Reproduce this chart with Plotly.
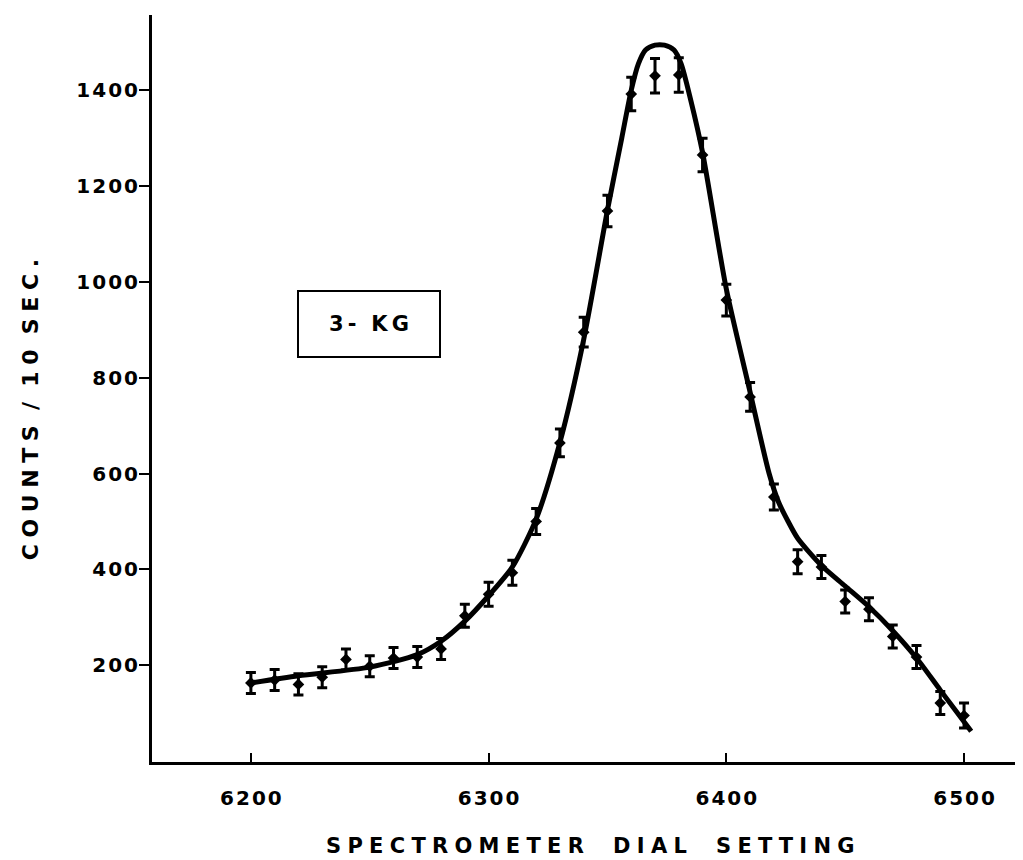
import plotly.graph_objects as go

# Measured points (spectrometer dial setting vs counts / 10 sec)
dial = [6200, 6210, 6220, 6230, 6240, 6250, 6260, 6270, 6280, 6290,
        6300, 6310, 6320, 6330, 6340, 6350, 6360, 6370, 6380, 6390,
        6400, 6410, 6420, 6430, 6440, 6450, 6460, 6470, 6480, 6490, 6500]
counts = [163, 169, 160, 175, 212, 198, 215, 217, 234, 303,
          348, 393, 500, 664, 895, 1148, 1392, 1430, 1432, 1265,
          962, 760, 551, 416, 405, 333, 317, 260, 217, 121, 95]
errors = [22, 22, 22, 22, 22, 22, 22, 22, 22, 24,
          25, 26, 27, 29, 31, 33, 35, 36, 36, 35,
          33, 30, 27, 25, 24, 24, 24, 24, 24, 24, 26]

# Hand-drawn fitted curve
curve_x = [6200, 6220, 6250, 6270, 6280, 6290, 6300, 6310, 6320, 6330,
           6340, 6350, 6356, 6360, 6363, 6366, 6370, 6374, 6378, 6381,
           6385, 6390, 6400, 6410, 6418, 6422, 6426, 6430, 6440, 6450,
           6460, 6470, 6480, 6490, 6503]
curve_y = [163, 178, 196, 222, 250, 292, 345, 405, 505, 665,
           880, 1150, 1300, 1400, 1455, 1484, 1494, 1494, 1484, 1455,
           1380, 1270, 985, 770, 600, 540, 500, 465, 408, 365,
           322, 272, 215, 148, 62]

x_ticks = [6200, 6300, 6400, 6500]
y_ticks = [200, 400, 600, 800, 1000, 1200, 1400]

box_label = "3- KG"
x_title = "SPECTROMETER DIAL SETTING"
y_title = "COUNTS / 10 SEC."


def spaced(s, gap="\u2009", word="\u00a0\u00a0\u00a0"):
    return word.join(gap.join(list(w)) for w in s.split(" "))


def tick_txt(v):
    return "\u200a".join(list(str(v)))


fig = go.Figure()
fig.add_trace(go.Scatter(
    x=curve_x, y=curve_y, mode="lines",
    line=dict(color="black", width=5, shape="spline", smoothing=0.7),
    hoverinfo="skip", showlegend=False))
fig.add_trace(go.Scatter(
    x=dial, y=counts, mode="markers",
    marker=dict(color="black", size=9, symbol="diamond"),
    error_y=dict(type="data", array=errors, color="black", thickness=3, width=5),
    showlegend=False))

font_tick = dict(family="DejaVu Sans", color="black", size=20, weight="bold")
font_title = dict(family="DejaVu Sans", color="black", size=21, weight="bold")
font_ytitle = dict(family="DejaVu Sans", color="black", size=22, weight="bold")

fig.update_layout(
    width=1015, height=852,
    margin=dict(l=144, r=0, t=7, b=98),
    paper_bgcolor="white", plot_bgcolor="white",
    showlegend=False,
    xaxis=dict(range=[6158.4, 6524.8], tickvals=x_ticks,
               ticktext=[tick_txt(v) for v in x_ticks], ticks="inside",
               ticklen=9, tickwidth=2, tickcolor="black",
               showline=True, linecolor="black", linewidth=3,
               showgrid=False, zeroline=False, tickfont=font_tick,
               ticklabelstandoff=16),
    yaxis=dict(range=[-2, 1557], tickvals=y_ticks,
               ticktext=[tick_txt(v) for v in y_ticks], ticks="outside",
               ticklen=10, tickwidth=2, tickcolor="black",
               showline=True, linecolor="black", linewidth=3,
               showgrid=False, zeroline=False, tickfont=font_tick,
               ticklabelstandoff=-3),
    annotations=[
        dict(text=spaced(x_title, gap="\u2009\u200a",
                         word="\u00a0\u00a0\u00a0\u00a0"),
             xref="paper", yref="paper",
             x=0.503, y=-0.1124, xanchor="center", yanchor="middle",
             showarrow=False, font=font_title),
        dict(text=spaced(y_title, gap="\u2009\u200a", word="\u00a0\u00a0"),
             xref="paper", yref="paper",
             x=-0.14, y=0.471, xanchor="center", yanchor="middle",
             textangle=-90, showarrow=False, font=font_ytitle),
        dict(text=spaced(box_label, word="\u00a0\u00a0"), xref="x", yref="y",
             x=6249.5, y=912, xanchor="center", yanchor="middle",
             showarrow=False, font=font_title,
             bordercolor="black", borderwidth=2, width=138, height=62,
             bgcolor="white"),
    ],
)

fig.write_html("out.html")
